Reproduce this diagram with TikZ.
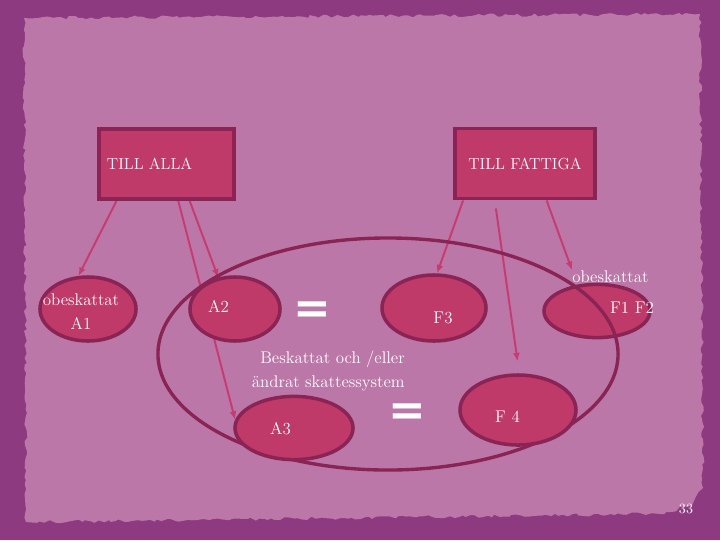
\documentclass[tikz,border=0pt]{standalone}
\usepackage{fontspec}
\newfontfamily\eqfont{DejaVu Sans}
\usetikzlibrary{arrows.meta,shapes.geometric,calc,backgrounds,decorations.pathmorphing}

\definecolor{frame}{RGB}{142,58,128}
\definecolor{paper}{RGB}{187,119,168}
\definecolor{crimson}{RGB}{191,58,104}
\definecolor{maroon}{RGB}{138,36,84}
\definecolor{wire}{RGB}{198,60,112}

\begin{document}
\begin{tikzpicture}[
  x=0.025cm, y=-0.025cm,
  font=\fontsize{12}{17}\selectfont,
  every node/.style={text=white, inner sep=0pt},
  group/.style={draw=maroon, line width=2.8pt, fill=crimson, minimum height=1.75cm, inner xsep=0.2cm, font=\fontsize{11.4}{14}\selectfont},
  oval/.style={ellipse, draw=maroon, line width=2.5pt, fill=crimson},
  ring/.style={ellipse, draw=maroon, line width=2.4pt, minimum width=11.5cm, minimum height=5.8cm},
  eq/.style={font=\eqfont\bfseries\fontsize{32}{32}\selectfont},
  flow/.style={-{Latex[length=6pt,width=5pt]}, draw=wire, line width=1.4pt}
]
\useasboundingbox (0,0) rectangle (720,540);

% the two groups
\node[group, text width=2.975cm, align=left] (alla) at (166.5,164) {TILL ALLA};
\node[group, minimum width=3.5cm, align=center] (fattiga) at (525,163.5) {TILL FATTIGA};

% ovals, ring drawn over F1 F2 only
\node[oval, minimum width=2.65cm, minimum height=1.33cm] (f12) at (597,311) {};
\node[ring] (circle) at (388,354) {};
\node[oval, minimum width=2.4cm, minimum height=1.6cm] (a1) at (88,309) {};
\node[oval, minimum width=2.25cm, minimum height=1.6cm] (a2) at (235,309) {};
\node[oval, minimum width=2.6cm, minimum height=1.65cm] (f3) at (434,308) {};
\node[oval, minimum width=2.95cm, minimum height=1.58cm] (a3) at (294,428) {};
\node[oval, minimum width=2.9cm, minimum height=1.75cm] (f4) at (518,410) {};

% texts
\node[align=center] (ta1) at (81,312) {obeskattat\\A\oldstylenums{1}};
\node[anchor=base] (ta2) at (218.5,312) {A\oldstylenums{2}};
\node[eq] (eq1) at (312,313) {=};
\node[anchor=base] (tf3) at (443,323) {F\oldstylenums{3}};
\node[anchor=base west] (obes) at (572,282) {obeskattat};
\node[anchor=base] (tf12) at (632,313) {F\oldstylenums{1} F\oldstylenums{2}};
\node[align=right, anchor=east] (note) at (405,371) {Beskattat och /eller\\ändrat skattessystem};
\node[anchor=base] (ta3) at (280.5,434) {A\oldstylenums{3}};
\node[eq] (eq2) at (407.5,415) {=};
\node[anchor=base] (tf4) at (507.5,422) {F \oldstylenums{4}};
\node[anchor=base, font=\fontsize{10}{12}\selectfont] (page) at (686,513) {\oldstylenums{33}};

\begin{scope}[on background layer]
  \fill[frame] (0,0) rectangle (720,540);
  \fill[paper, decorate, decoration={random steps, segment length=3pt, amplitude=1.2pt}]
    (24,18) -- (700,14) -- (703,488) -- (692,505) -- (660,514) -- (26,522) -- cycle;
  \draw[flow] ($(alla.south west)!0.14!(alla.south east)$) -- (a1.106);
  \draw[flow] ($(alla.south west)!0.667!(alla.south east)$) -- (a2.118);
  \draw[flow] ($(alla.south west)!0.585!(alla.south east)$) -- (a3.172);
  \draw[flow] ($(fattiga.south west)!0.07!(fattiga.south east)$) -- (f3.85);
  \draw[flow, shorten <=0.2cm, shorten >=0.3cm] ($(fattiga.south west)!0.29!(fattiga.south east)$) -- (f4.88);
  \draw[flow] ($(fattiga.south west)!0.65!(fattiga.south east)$) -- (obes.north west);
\end{scope}
\end{tikzpicture}
\end{document}
